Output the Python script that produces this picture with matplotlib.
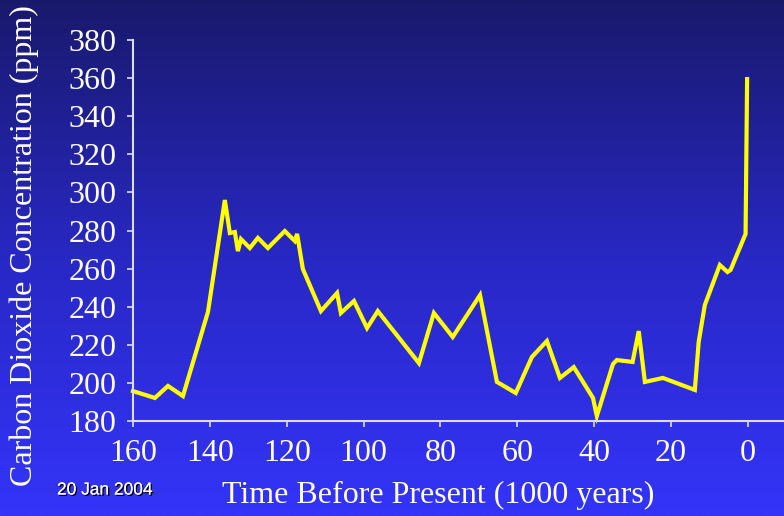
import numpy as np
import matplotlib
matplotlib.use("Agg")
import matplotlib.pyplot as plt
from matplotlib.colors import LinearSegmentedColormap
import matplotlib.patheffects as pe

# Vostok-style CO2 record
years_bp = [160, 154.3, 150.9, 147.0, 140.5, 136.1, 134.8, 133.5, 132.7, 131.9,
            129.6, 127.5, 124.9, 120.5, 117.9, 117.3, 115.8, 111.1, 106.9, 105.9,
            102.5, 99.1, 96.3, 85.6, 81.7, 76.8, 69.7, 65.3, 60.4, 56.2,
            52.3, 48.9, 45.3, 40.3, 39.3, 35.1, 34.1, 30.0, 28.4, 26.8,
            22.1, 13.8, 12.8, 11.2, 7.3, 5.3, 4.5, 0.6, 0.2]
co2_ppm = [195.7, 192.1, 198.4, 193.1, 237.2, 296.0, 278.7, 279.2, 269.2, 275.5,
           270.8, 276.1, 270.8, 279.7, 274.5, 278.2, 259.8, 237.7, 247.2, 236.7,
           243.0, 228.8, 237.7, 210.4, 236.7, 224.1, 246.1, 200.5, 194.7, 213.6,
           222.0, 202.6, 208.3, 192.1, 182.6, 209.9, 212.0, 211.0, 227.2, 200.5,
           202.6, 196.3, 221.5, 240.9, 261.9, 258.2, 259.3, 278.2, 359.5]

x_ticks = [160, 140, 120, 100, 80, 60, 40, 20, 0]
y_ticks = [180, 200, 220, 240, 260, 280, 300, 320, 340, 360, 380]

fig = plt.figure(figsize=(7.84, 5.16), dpi=100)

# background gradient, dark navy at top to bright blue at bottom
bg = fig.add_axes([0, 0, 1, 1], zorder=0)
grad = np.linspace(0, 1, 256).reshape(-1, 1)
cmap = LinearSegmentedColormap.from_list("bg", ["#19196c", "#2828c4", "#3434fa"])
bg.imshow(grad, aspect="auto", cmap=cmap, extent=[0, 1, 0, 1], origin="upper")
bg.axis("off")

ax = fig.add_axes([133 / 784, 1 - 421 / 516, 1 - 133 / 784, (421 - 40) / 516], zorder=1)
ax.patch.set_alpha(0)
ax.plot(years_bp, co2_ppm, color="#ffff00", lw=3, solid_joinstyle="miter", clip_on=False)

ax.set_xlim(160, -9.4)
ax.set_ylim(180, 380)
ax.set_xticks(x_ticks)
ax.set_yticks(y_ticks)

axis_col = "#dcdcf5"
for s in ["top", "right"]:
    ax.spines[s].set_visible(False)
for s in ["left", "bottom"]:
    ax.spines[s].set_color(axis_col)
    ax.spines[s].set_linewidth(1.5)

serif = ["Liberation Serif", "DejaVu Serif"]
ax.tick_params(axis="both", colors=axis_col, labelcolor="white", length=4, width=1.2,
               labelsize=23)
ax.tick_params(axis="y", pad=8)
ax.tick_params(axis="x", pad=9)
for lab in ax.get_xticklabels() + ax.get_yticklabels():
    lab.set_family(serif)

fig.text(24 / 784, 1 - 246 / 516, "Carbon Dioxide Concentration (ppm)", rotation=90,
         ha="center", va="center", color="white", fontsize=23, family=serif)
fig.text(438 / 784, 1 - 495 / 516, "Time Before Present (1000 years)",
         ha="center", va="center", color="white", fontsize=23, family=serif)
fig.text(57 / 784, 1 - 490 / 516, "20 Jan 2004", ha="left", va="center", color="white",
         fontsize=12.5, family=["Liberation Sans", "DejaVu Sans"],
         path_effects=[pe.withSimplePatchShadow(offset=(1, -1), shadow_rgbFace="black", alpha=1),
                       pe.Normal()])

fig.savefig("out.png", dpi=100)
